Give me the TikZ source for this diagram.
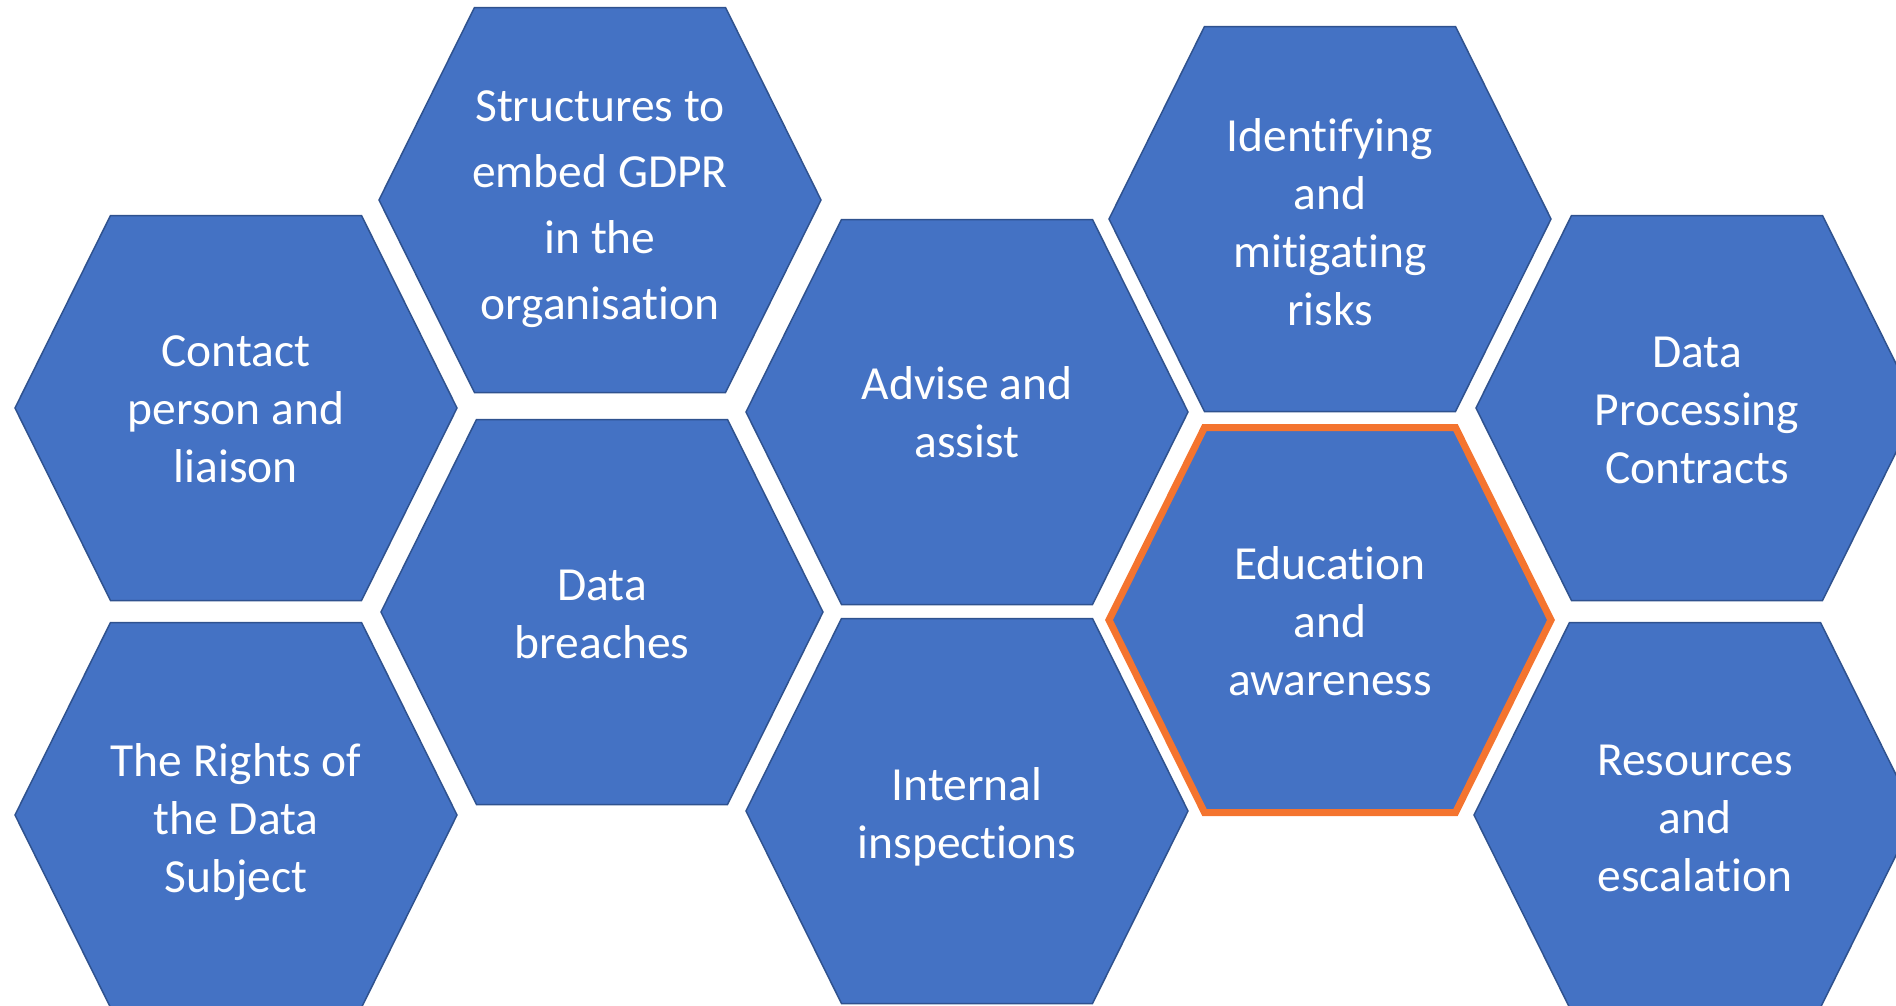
\documentclass[tikz,border=0pt]{standalone}
\usepackage{fontspec}
\setmainfont{Carlito}[Ligatures=NoCommon]
\definecolor{hexblue}{HTML}{4472C4}
\definecolor{hexline}{HTML}{2F528F}
\definecolor{hexorange}{HTML}{F4742F}
\tikzset{
  hexagon/.pic={
    \path[pic actions] (-221,0) -- (-125.5,-192.5) -- (125.5,-192.5)
      -- (221,0) -- (125.5,192.5) -- (-125.5,192.5) -- cycle;
  },
  hexcell/.style={fill=hexblue, draw=hexline, line width=1.5pt},
  hexmark/.style={fill=hexblue, draw=hexorange, line width=7pt, line join=miter},
  hextext/.style={text=white, align=center, inner sep=0pt,
    font=\fontsize{47.5}{58}\selectfont},
}
\begin{document}
\begin{tikzpicture}[x=1pt, y=-1pt]
  \useasboundingbox (0,0) rectangle (1896,1005);
  \clip (0,0) rectangle (1896,1005);

  % first column
  \pic[hexcell] at (236,408) {hexagon};
  \node[hextext] (contact) at (236,409) {Contact\\person and\\liaison};
  \pic[hexcell] at (236,815) {hexagon};
  \node[hextext] (rights) at (236,822) {The Rights of\\the Data\\Subject};

  % second column
  \pic[hexcell] at (600,200) {hexagon};
  \node[hextext, font=\fontsize{47.5}{66}\selectfont] (structures) at (600,209)
    {Structures to\\embed GDPR\\in the\\organisation};
  \pic[hexcell] at (602,612) {hexagon};
  \node[hextext] (breaches) at (602,614) {Data\\breaches};

  % third column
  \pic[hexcell] at (967,412) {hexagon};
  \node[hextext] (advise) at (967,412) {Advise and\\assist};
  \pic[hexcell] at (967,811) {hexagon};
  \node[hextext] (internal) at (967,817) {Internal\\inspections};

  % fourth column
  \pic[hexcell] at (1330,219) {hexagon};
  \node[hextext] (identifying) at (1330,222) {Identifying\\and\\mitigating\\risks};
  \pic[hexmark] at (1330,620) {hexagon};
  \node[hextext] (education) at (1330,621) {Education\\and\\awareness};

  % fifth column
  \pic[hexcell] at (1697,408) {hexagon};
  \node[hextext] (contracts) at (1697,410) {Data\\Processing\\Contracts};
  \pic[hexcell] at (1695,815) {hexagon};
  \node[hextext] (resources) at (1695,818) {Resources\\and\\escalation};
\end{tikzpicture}
\end{document}
